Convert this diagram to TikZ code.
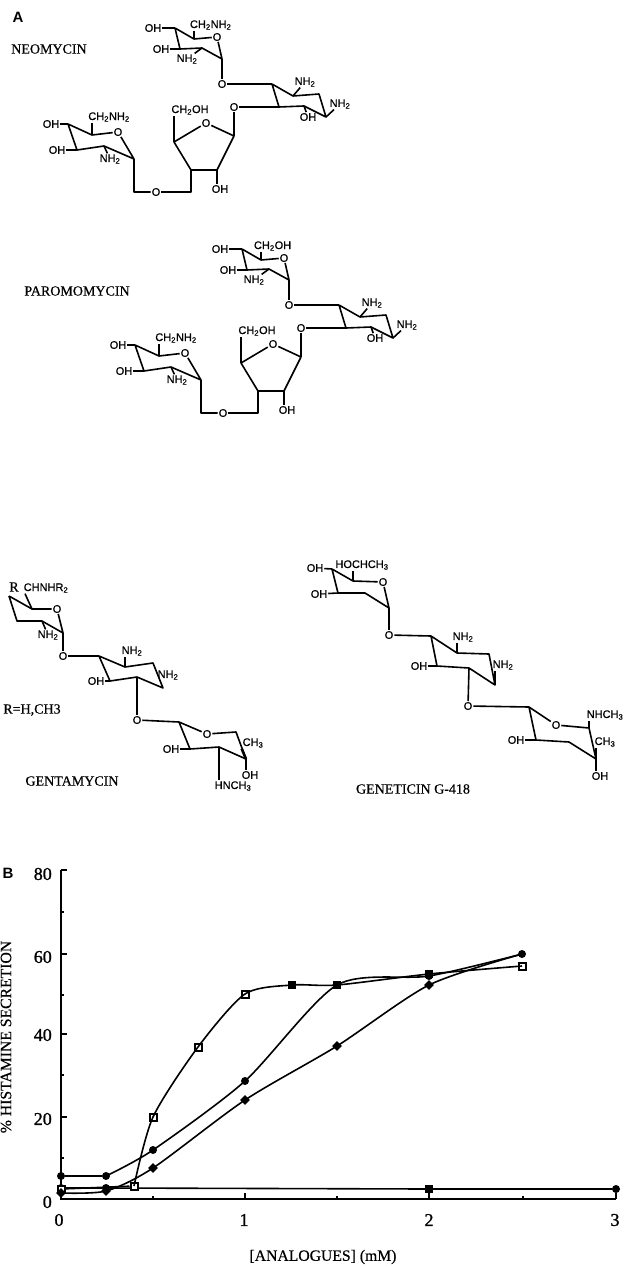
\documentclass[tikz,border=0pt]{standalone}
\usepackage{fontspec}
\setmainfont{Liberation Serif}
\setsansfont{Liberation Sans}
\newfontfamily\atomfont{Liberation Sans}[FakeBold=0.7]
\newfontfamily\capfont{Liberation Serif}[FakeBold=0.5]
\newfontfamily\numfont{Liberation Serif}[FakeBold=1.2]
\usetikzlibrary{shapes.geometric}
\tikzset{
	atom/.style = {font = \fontsize{11}{11}\atomfont, inner sep = 1pt, outer sep = 0pt},
	caption/.style = {font = \fontsize{14}{14}\capfont, inner sep = 0pt},
	axistitle/.style = {font = \fontsize{15.7}{16}\capfont, inner sep = 0pt},
	panel/.style = {font = \fontsize{15}{15}\sffamily\bfseries\selectfont, inner sep = 0pt},
	axisnum/.style = {font = \fontsize{18}{18}\numfont, inner sep = 0pt},
	bond/.style = {line width = 1.6pt, line join = round},
	wedgebond/.style = {line width = 2.6pt},
	axisline/.style = {line width = 1.6pt},
	curve/.style = {line width = 1.6pt, smooth, tension = 0.45},
	sqfill/.style = {draw, fill = black, minimum size = 7pt, inner sep = 0pt},
	sqopen/.style = {draw, fill = white, line width = 2pt, minimum size = 7pt, inner sep = 0pt},
	dotfill/.style = {circle, fill = black, minimum size = 8pt, inner sep = 0pt},
	diafill/.style = {diamond, fill = black, minimum size = 10pt, inner sep = 0pt}
}
\newcommand{\subtwo}{\textsubscript{2}}
\newcommand{\subthree}{\textsubscript{3}}
\newcommand{\aminoside}[2]{
	% top ring
	\coordinate (a1) at (175,28);
	\coordinate (a2) at (194,39);
	\node[atom] (aO) at (217,37) {O};
	\coordinate (a3) at (222,59);
	\coordinate (a4) at (202,48);
	\coordinate (a5) at (180,49);
	\node[atom] (aOH1) at (153,28) {OH};
	\node[atom] (aOH2) at (161,49) {OH};
	\node[atom] (aN) at (187,59) {NH\subtwo};
	\node[atom, anchor = west] (aS) at (#1,25) {#2};
	\draw[bond] (a1) -- (a2) -- (aO) -- (a3) -- (a4) -- (a5) -- (a1);
	\draw[bond] (a1) -- (aOH1);
	\draw[bond] (a5) -- (aOH2);
	\draw[bond] (a4) -- (aN);
	\draw[bond] (a2) -- (a2 |- aS.south);
	% middle ring
	\node[atom] (bO1) at (222,84) {O};
	\node[atom] (bO2) at (234,107) {O};
	\coordinate (b1) at (272,84);
	\coordinate (b2) at (293,96);
	\coordinate (b3) at (319,94);
	\coordinate (b4) at (326,117);
	\coordinate (b5) at (304,106);
	\coordinate (b6) at (279,107);
	\node[atom] (bN1) at (305,82) {NH\subtwo};
	\node[atom] (bN2) at (340,104) {NH\subtwo};
	\node[atom] (bOH) at (308,117) {OH};
	\draw[bond] (b1) -- (b2) -- (b3) -- (b4) -- (b5) -- (b6) -- (b1);
	\draw[bond] (a3) -- (bO1);
	\draw[bond] (bO1) -- (b1);
	\draw[bond] (bO2) -- (b6);
	\draw[bond] (b2) -- (bN1);
	\draw[bond] (b4) -- (bN2);
	\draw[bond] (b5) -- (bOH);
	% sugar ring
	\coordinate (c1) at (234,136);
	\node[atom] (cO) at (206,123) {O};
	\coordinate (c4) at (174,142);
	\coordinate (c3) at (191,170);
	\coordinate (c2) at (217,170);
	\node[atom] (cOH) at (220,189) {OH};
	\node[atom] (cS) at (190,110) {CH\subtwo OH};
	\draw[bond] (c1) -- (cO) -- (c4) -- (c3) -- (c2) -- (c1);
	\draw[bond] (bO2) -- (c1);
	\draw[bond] (c2) -- (c2 |- cOH.north);
	\draw[bond] (c4) -- (c4 |- cS.south);
	% lower ring
	\node[atom] (dO2) at (156,192) {O};
	\coordinate (dc) at (191,192);
	\coordinate (de) at (134,192);
	\coordinate (d1) at (134,159);
	\node[atom] (dO) at (118,132) {O};
	\coordinate (d2) at (92,135);
	\coordinate (d3) at (68,124);
	\coordinate (d4) at (77,150);
	\coordinate (d5) at (104,146);
	\node[atom] (dOH1) at (51,124) {OH};
	\node[atom] (dOH2) at (57,150) {OH};
	\node[atom] (dN) at (110,159) {NH\subtwo};
	\node[atom] (dS) at (109,117) {CH\subtwo NH\subtwo};
	\draw[bond] (c3) -- (dc) -- (dO2);
	\draw[bond] (dO2) -- (de) -- (d1) -- (dO) -- (d2) -- (d3) -- (d4) -- (d5) -- (d1);
	\draw[bond] (d3) -- (dOH1);
	\draw[bond] (d4) -- (dOH2);
	\draw[bond] (d5) -- (dN);
	\draw[bond] (d2) -- (d2 |- dS.south);
}

\begin{document}
\begin{tikzpicture}[x = 1pt, y = -1pt]
	\useasboundingbox (0,0) rectangle (627,1268);

	\node[panel] (pA) at (18,17) {A};
	\node[caption] (neo) at (49,49) {NEOMYCIN};
	\node[caption] (paro) at (77,291) {PAROMOMYCIN};
	\begin{scope}[name prefix = n-]
		\aminoside{189}{CH\subtwo NH\subtwo}
	\end{scope}
	\begin{scope}[shift = {(67,221)}, name prefix = p-]
		\aminoside{186}{CH\subtwo OH}
	\end{scope}

	% gentamycin
	\node[caption] (rlab) at (32,710) {R=H,CH3};
	\node[caption] (genta) at (72,781) {GENTAMYCIN};
	\coordinate (e1) at (9,596);
	\coordinate (e2) at (32,609);
	\node[atom] (eO) at (57,609) {O};
	\coordinate (e3) at (63,633);
	\coordinate (e4) at (42,621);
	\coordinate (e5) at (17,621);
	\node[caption] (eR) at (14,587) {R};
	\node[atom] (eS) at (46,588) {CHNHR\subtwo};
	\node[atom] (eN) at (48,635) {NH\subtwo};
	\draw[bond] (e1) -- (e2) -- (eO) -- (e3) -- (e4) -- (e5) -- (e1);
	\draw[bond] (e2) -- (eS.south -| 25,0);
	\draw[bond] (e4) -- (eN);
	\node[atom] (fO1) at (63,656) {O};
	\coordinate (f1) at (99,656);
	\coordinate (f2) at (125,667);
	\coordinate (f3) at (153,663);
	\coordinate (f4) at (163,688);
	\coordinate (f5) at (137,677);
	\coordinate (f6) at (110,681);
	\node[atom] (fN1) at (132,651) {NH\subtwo};
	\node[atom] (fN2) at (168,675) {NH\subtwo};
	\node[atom] (fOH) at (96,681) {OH};
	\draw[bond] (f1) -- (f2) -- (f3) -- (f4) -- (f5) -- (f6) -- (f1);
	\draw[bond] (e3) -- (fO1);
	\draw[bond] (fO1) -- (f1);
	\draw[bond] (f2) -- (f2 |- fN1.south);
	\draw[bond] (f6) -- (fOH);
	\node[atom] (gO1) at (137,720) {O};
	\coordinate (g1) at (179,722);
	\node[atom] (gO) at (207,734) {O};
	\coordinate (g3) at (236,732);
	\coordinate (g4) at (246,759);
	\coordinate (g5) at (219,747);
	\coordinate (g6) at (190,749);
	\node[atom] (gOH1) at (171,749) {OH};
	\node[atom] (gOH2) at (250,775) {OH};
	\node[atom] (gN) at (233,786) {HNCH\subthree};
	\node[atom] (gC) at (253,743) {CH\subthree};
	\draw[bond] (f5) -- (gO1);
	\draw[bond] (gO1) -- (g1) -- (gO) -- (g3) -- (g4) -- (g5) -- (g6) -- (g1);
	\draw[bond] (g6) -- (gOH1);
	\draw[bond] (g4) -- (g4 |- gOH2.north);
	\draw[wedgebond] (g4) -- (gC.south west);
	\draw[bond] (g5) -- (g5 |- gN.north);

	% geneticin
	\node[caption] (genet) at (413,789) {GENETICIN G-418};
	\coordinate (h1) at (332,569);
	\coordinate (h2) at (353,581);
	\node[atom] (hO) at (383,582) {O};
	\coordinate (h3) at (389,608);
	\coordinate (h4) at (365,593);
	\coordinate (h5) at (338,593);
	\node[atom] (hOH1) at (315,568) {OH};
	\node[atom] (hOH2) at (319,594) {OH};
	\node[atom] (hS) at (362,565) {HOCHCH\subthree};
	\draw[bond] (h1) -- (h2) -- (hO) -- (h3) -- (h4) -- (h5) -- (h1);
	\draw[bond] (h1) -- (hOH1);
	\draw[bond] (h5) -- (hOH2);
	\draw[bond] (h2) -- (h2 |- hS.south);
	\node[atom] (iO1) at (389,635) {O};
	\coordinate (i1) at (431,636);
	\coordinate (i2) at (457,653);
	\coordinate (i3) at (489,654);
	\coordinate (i4) at (495,685);
	\coordinate (i5) at (469,668);
	\coordinate (i6) at (437,666);
	\node[atom] (iN1) at (463,637) {NH\subtwo};
	\node[atom] (iN2) at (503,665) {NH\subtwo};
	\node[atom] (iOH) at (419,666) {OH};
	\draw[bond] (h3) -- (iO1);
	\draw[bond] (iO1) -- (i1) -- (i2) -- (i3) -- (i4) -- (i5) -- (i6) -- (i1);
	\draw[bond] (i2) -- (i2 |- iN1.south);
	\draw[bond] (i6) -- (iOH);
	\draw[wedgebond] (i4) -- (i4 |- iN2.south);
	\node[atom] (jO1) at (468,706) {O};
	\coordinate (j1) at (529,707);
	\node[atom] (jO) at (556,725) {O};
	\coordinate (j3) at (589,728);
	\coordinate (j4) at (596,759);
	\coordinate (j5) at (569,742);
	\coordinate (j6) at (536,740);
	\node[atom] (jOH1) at (516,740) {OH};
	\node[atom] (jOH2) at (600,776) {OH};
	\node[atom] (jN) at (605,715) {NHCH\subthree};
	\node[atom] (jC) at (605,742) {CH\subthree};
	\draw[bond] (i5) -- (jO1);
	\draw[bond] (jO1) -- (j1) -- (jO) -- (j3) -- (j4) -- (j5) -- (j6) -- (j1);
	\draw[bond] (j6) -- (jOH1);
	\draw[bond] (j4) -- (j4 |- jOH2.north);
	\draw[bond] (j3) -- (j3 |- jN.south);
	\draw[wedgebond] (j4) -- (j4 |- jC.south);

	% graph
	\node[panel] (pB) at (8,873) {B};
	\coordinate (ytop) at (61,870);
	\coordinate (orig) at (61,1199);
	\coordinate (xend) at (616,1199);
	\draw[axisline] (ytop) -- (orig) -- (xend);
	\foreach \yy in {870,954,1034,1117,1199} \draw[axisline] (61,\yy) -- ++(6,0);
	\foreach \yy in {912,995,1075,1158} \draw[axisline] (61,\yy) -- ++(3,0);
	\foreach \xx in {61,245,429,616} \draw[axisline] (\xx,1199) -- ++(0,-6);
	\foreach \xx in {153,337,523} \draw[axisline] (\xx,1199) -- ++(0,-3);
	\foreach \val/\yy in {80/874,60/957,40/1035,20/1119} \node[axisnum, anchor = east] (y\val) at (52,\yy) {\val};
	\node[axisnum, anchor = east] (y0) at (52,1202) {0};
	\foreach \val/\xx in {0/59,1/244,2/429,3/615} \node[axisnum] (x\val) at (\xx,1220) {\val};
	\node[axistitle] (xlab) at (323,1257) {[ANALOGUES] (mM)};
	\node[axistitle, rotate = 90] (ylab) at (6,1037) {\% HISTAMINE SECRETION};

	% flat curve
	\node[dotfill] (t0) at (61,1188) {};
	\node[dotfill] (t1) at (106,1188) {};
	\node[sqfill] (t2) at (429,1189) {};
	\node[dotfill] (t3) at (616,1189) {};
	\draw[axisline] (t0) -- (t1) -- (t2) -- (t3);
	% square curve
	\node[sqopen] (s0) at (61,1189) {};
	\node[sqopen] (s1) at (134,1186) {};
	\node[sqopen] (s2) at (153,1117) {};
	\node[sqopen] (s3) at (198,1047) {};
	\node[sqopen] (s4) at (245,994) {};
	\node[sqfill] (s5) at (292,985) {};
	\node[sqfill] (s6) at (337,985) {};
	\node[sqfill] (s7) at (429,974) {};
	\node[sqopen] (s8) at (522,966) {};
	\draw[curve] plot coordinates {(s1) (s2) (s3) (s4) (s5) (s6) (s7) (s8)};
	\draw[axisline] (s0) -- (s1);
	% circle curve
	\node[dotfill] (u0) at (61,1176) {};
	\node[dotfill] (u1) at (106,1176) {};
	\node[dotfill] (u2) at (153,1150) {};
	\node[dotfill] (u3) at (245,1081) {};
	\node[dotfill] (u4) at (429,976) {};
	\node[dotfill] (u5) at (522,954) {};
	\draw[axisline] (u0) -- (u1);
	\draw[curve] plot coordinates {(u1) (u2) (u3) (s6) (u4) (u5)};
	% diamond curve
	\node[diafill] (v0) at (61,1193) {};
	\node[diafill] (v1) at (106,1191) {};
	\node[diafill] (v2) at (153,1168) {};
	\node[diafill] (v3) at (245,1100) {};
	\node[diafill] (v4) at (337,1046) {};
	\node[diafill] (v5) at (429,985) {};
	\draw[curve] plot coordinates {(v0) (v1) (v2) (v3) (v4) (v5) (u5)};
\end{tikzpicture}
\end{document}
